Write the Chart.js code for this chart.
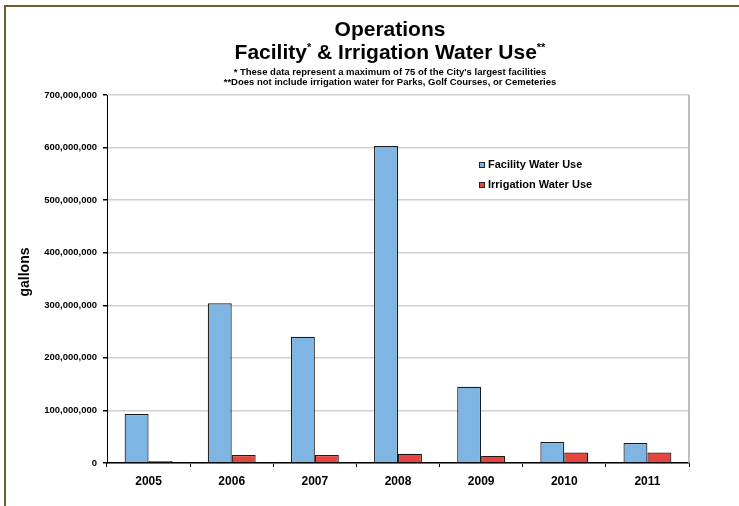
<!DOCTYPE html>
<html>
<head>
<meta charset="utf-8">
<script src="https://cdn.jsdelivr.net/npm/chart.js@4"></script>
<style>
  html, body { margin: 0; padding: 0; background: #fff; overflow: hidden; }
  #wrap { position: relative; width: 739px; height: 506px; }
  #frame { position: absolute; left: 4px; top: 5px; width: 800px; height: 600px; border: 2px solid #6e5e36; box-sizing: border-box; }
  .ttl { position: absolute; left: 0; width: 780px; text-align: center; font-family: "Liberation Sans", Arial, sans-serif; font-weight: bold; color: #000; white-space: nowrap; }
  .big { font-size: 21px; line-height: 24px; }
  .small { font-size: 9.5px; line-height: 10px; }
  .big sup { font-size: 11px; vertical-align: 0; position: relative; top: -8px; }
  canvas { position: absolute; left: 0; top: 0; }
</style>
</head>
<body>
<div id="wrap">
  <div id="frame"></div>
  <canvas id="waterChart" width="739" height="506"></canvas>
  <div class="ttl big" style="top:17px">Operations</div>
  <div class="ttl big" style="top:40px">Facility<sup>*</sup> &amp; Irrigation Water Use<sup>**</sup></div>
  <div class="ttl small" style="top:67px">* These data represent a maximum of 75 of the City's largest facilities</div>
  <div class="ttl small" style="top:77px">**Does not include irrigation water for Parks, Golf Courses, or Cemeteries</div>
</div>
<script>
/* ================================================
   Operations – Facility & Irrigation Water Use
================================================ */

const years = ['2005', '2006', '2007', '2008', '2009', '2010', '2011'];
const facilityUse = [93000000, 304000000, 240000000, 603000000, 145000000, 40000000, 38000000];
const irrigationUse = [4000000, 15000000, 15000000, 17500000, 13500000, 20000000, 20000000];
const yTicks = [0, 100000000, 200000000, 300000000, 400000000, 500000000, 600000000, 700000000];
const yAxisTitle = 'gallons';

const FONT = '"Liberation Sans", Arial, sans-serif';

// legend drawn inside the plot, at the spot the original uses
const insideLegend = {
  id: 'insideLegend',
  afterDraw(chart) {
    const ctx = chart.ctx;
    const rows = [165, 185];
    ctx.save();
    ctx.font = 'bold 11px ' + FONT;
    ctx.textBaseline = 'middle';
    chart.data.datasets.forEach((ds, i) => {
      const y = rows[i];
      ctx.fillStyle = ds.backgroundColor;
      ctx.fillRect(479, y - 3, 6, 6);
      ctx.strokeStyle = '#222';
      ctx.lineWidth = 1;
      ctx.strokeRect(479.5, y - 2.5, 5, 5);
      ctx.fillStyle = '#000';
      ctx.fillText(ds.label, 488, y);
    });

    // y axis title, a little above the plot middle like the original
    ctx.translate(25, 272);
    ctx.rotate(-Math.PI / 2);
    ctx.font = 'bold 14px ' + FONT;
    ctx.textAlign = 'center';
    ctx.fillText(yAxisTitle, 0, 0);
    ctx.restore();
  }
};

// grey edge on the right side of the plot area
const plotEdge = {
  id: 'plotEdge',
  beforeDatasetsDraw(chart) {
    const { ctx, chartArea } = chart;
    ctx.save();
    ctx.strokeStyle = '#a8a8a8';
    ctx.lineWidth = 1.5;
    ctx.beginPath();
    ctx.moveTo(chartArea.right, chartArea.top);
    ctx.lineTo(chartArea.right, chartArea.bottom);
    ctx.stroke();
    ctx.restore();
  }
};

const ctx = document.getElementById('waterChart').getContext('2d');

new Chart(ctx, {
  type: 'bar',
  data: {
    labels: years,
    datasets: [
      {
        label: 'Facility Water Use',
        data: facilityUse,
        backgroundColor: '#7fb5e3',
        borderColor: '#1a1a1a',
        borderWidth: 1.2,
        categoryPercentage: 0.576,
        barPercentage: 1.0,
      },
      {
        label: 'Irrigation Water Use',
        data: irrigationUse,
        backgroundColor: '#e5443f',
        borderColor: '#1a1a1a',
        borderWidth: 1.2,
        categoryPercentage: 0.576,
        barPercentage: 1.0,
      }
    ]
  },
  options: {
    responsive: false,
    animation: false,
    layout: { padding: { top: 95, right: 50, left: 0, bottom: 0 } },
    plugins: {
      legend: { display: false },
      tooltip: { enabled: false }
    },
    scales: {
      x: {
        afterFit: s => { s.height = 43; },
        grid: {
          offset: true,
          drawOnChartArea: false,
          tickLength: 4,
          tickColor: '#000',
        },
        border: { display: true, color: '#000', width: 1.5 },
        ticks: {
          color: '#000',
          padding: 7,
          font: { family: FONT, size: 12, weight: 'bold' }
        }
      },
      y: {
        min: 0,
        max: 700000000,
        afterFit: s => { s.width = 107; },
        afterBuildTicks: s => { s.ticks = yTicks.map(v => ({ value: v })); },
        grid: {
          color: '#d0d0d0',
          lineWidth: 1.5,
          tickLength: 4,
          tickColor: '#000',
        },
        border: { display: true, color: '#000', width: 1 },
        ticks: {
          color: '#000',
          padding: 6,
          font: { family: FONT, size: 9.5, weight: 'bold' },
          callback: v => v.toLocaleString('en-US')
        }
      }
    }
  },
  plugins: [plotEdge, insideLegend]
});
</script>
</body>
</html>
